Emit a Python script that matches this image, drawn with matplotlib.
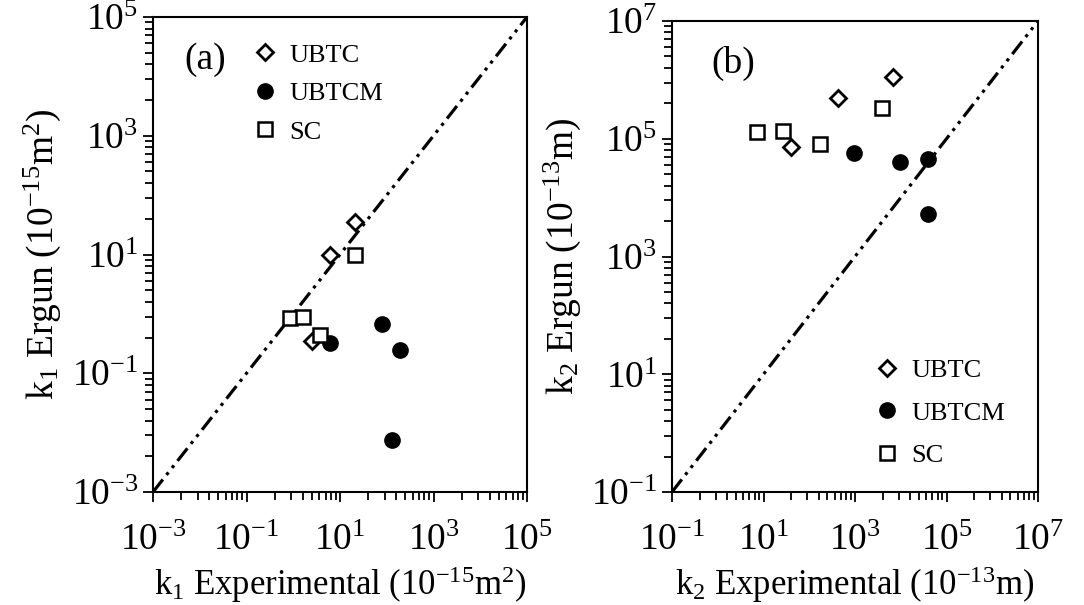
import numpy as np
import matplotlib
matplotlib.use('Agg')
import matplotlib.pyplot as plt
from matplotlib.ticker import FixedLocator, NullFormatter

plt.rcParams['font.family'] = ['Liberation Serif', 'DejaVu Serif']
plt.rcParams['mathtext.fontset'] = 'custom'
plt.rcParams['mathtext.rm'] = 'Liberation Serif'
plt.rcParams['mathtext.it'] = 'Liberation Serif:italic'

# panel (a): k1, 10^-15 m^2
a_ubtc_x = [21, 6.1, 2.5]
a_ubtc_y = [35, 10, 0.35]
a_ubtcm_x = [6.1, 78, 192, 127]
a_ubtcm_y = [0.32, 0.67, 0.25, 0.0075]
a_sc_x = [21, 0.85, 1.6, 3.7]
a_sc_y = [10, 0.85, 0.88, 0.44]

# panel (b): k2, 10^-13 m
b_ubtc_x = [6900, 430, 39]
b_ubtc_y = [1.12e6, 5.0e5, 7.3e4]
b_ubtcm_x = [950, 9600, 4.0e4, 4.0e4]
b_ubtcm_y = [5.8e4, 4.0e4, 4.6e4, 5200]
b_sc_x = [7.3, 27, 172, 3800]
b_sc_y = [1.31e5, 1.35e5, 8.1e4, 3.3e5]

a_decades = [-3, -1, 1, 3, 5]
b_decades = [-1, 1, 3, 5, 7]

fig = plt.figure(figsize=(10.84, 6.05), dpi=100)
ax_a = fig.add_axes([153 / 1084, 1 - 492 / 605, 374 / 1084, 475 / 605])
ax_b = fig.add_axes([672 / 1084, 1 - 492 / 605, 366 / 1084, 471 / 605])

dash = (0, (5, 1.8, 1, 1.8, 1, 1.8))


def setup(ax, decades, xlab, ylab, tag, tagx):
    lo, hi = 10.0 ** decades[0], 10.0 ** decades[-1]
    ax.set_xscale('log')
    ax.set_yscale('log')
    ax.plot([lo, hi], [lo, hi], color='black', lw=2.3, linestyle=dash, zorder=1)
    ax.set_xlim(lo, hi)
    ax.set_ylim(lo, hi)
    majors = [10.0 ** d for d in decades]
    # two decades per major step, minor ticks spaced like a single log decade
    minors = [10.0 ** d * k ** 2 for d in decades[:-1] for k in range(2, 10)]
    labels = [r'$\mathregular{10^{%d}}$' % d for d in decades]
    for axis in (ax.xaxis, ax.yaxis):
        axis.set_major_locator(FixedLocator(majors))
        axis.set_minor_locator(FixedLocator(minors))
        axis.set_minor_formatter(NullFormatter())
    ax.set_xticklabels(labels)
    ax.set_yticklabels(labels)
    ax.tick_params(which='both', direction='out', width=1.3, labelsize=27)
    ax.tick_params(which='major', length=7)
    ax.tick_params(which='minor', length=5.5)
    ax.tick_params(axis='x', pad=16)
    for s in ax.spines.values():
        s.set_linewidth(1.5)
    ax.set_xlabel(xlab, fontsize=25, labelpad=4)
    ax.set_ylabel(ylab, fontsize=27, labelpad=6)
    ax.text(tagx, 0.91, tag, transform=ax.transAxes, fontsize=27,
            ha='center', va='center')


def points(ax, ux, uy, mx, my, sx, sy):
    ax.plot(ux, uy, 'D', ms=8.5, mfc='white', mec='black', mew=2, ls='none',
            label='UBTC', zorder=3)
    ax.plot(mx, my, 'o', ms=11, mfc='black', mec='black', ls='none',
            label='UBTCM', zorder=3)
    ax.plot(sx, sy, 's', ms=10, mfc='white', mec='black', mew=1.8, ls='none',
            label='SC', zorder=3)


points(ax_a, a_ubtc_x, a_ubtc_y, a_ubtcm_x, a_ubtcm_y, a_sc_x, a_sc_y)
points(ax_b, b_ubtc_x, b_ubtc_y, b_ubtcm_x, b_ubtcm_y, b_sc_x, b_sc_y)

setup(ax_a, a_decades,
      r'$\mathregular{k_1\ Experimental\ (10^{-15}m^2)}$',
      r'$\mathregular{k_1\ Ergun\ (10^{-15}m^2)}$', '(a)', 0.14)
setup(ax_b, b_decades,
      r'$\mathregular{k_2\ Experimental\ (10^{-13}m)}$',
      r'$\mathregular{k_2\ Ergun\ (10^{-13}m)}$', '(b)', 0.167)

leg_kw = dict(frameon=False, fontsize=19, handlelength=1.0, handletextpad=0.4,
              borderpad=0, borderaxespad=0, loc='upper left')
ax_a.legend(bbox_to_anchor=(0.265, 0.945), labelspacing=0.57, **leg_kw)
ax_b.legend(bbox_to_anchor=(0.552, 0.283), labelspacing=0.72, **leg_kw)

fig.savefig('out.png', dpi=100)
